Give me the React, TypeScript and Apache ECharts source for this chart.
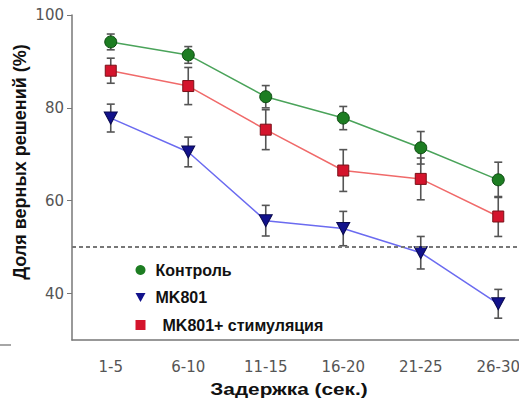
import React, { useEffect, useRef } from "react";
import * as echarts from "echarts";

const categories = ["1-5", "6-10", "11-15", "16-20", "21-25", "26-30"];
const controlValues = [94.2, 91.4, 82.4, 77.8, 71.4, 64.5];
const controlErr = [1.7, 1.8, 2.4, 2.5, 3.5, 3.8];
const mk801Values = [77.8, 70.5, 55.7, 54.0, 48.8, 37.8];
const mk801Err = [3.0, 3.2, 3.3, 3.7, 3.5, 3.1];
const stimValues = [88.0, 84.7, 75.3, 66.5, 64.7, 56.6];
const stimErr = [2.7, 4.0, 4.3, 4.5, 4.5, 4.3];
const yTicks = [40, 60, 80, 100];
const chanceLevel = 50;

const TRI_DOWN = "path://M0,0 L10,0 L5,9 Z";

function errData(vals: number[], errs: number[]) {
  return vals.map((v, i) => [i, v - errs[i], v + errs[i]]);
}

function errSeries(vals: number[], errs: number[]) {
  return {
    type: "custom",
    silent: true,
    z: 1,
    data: errData(vals, errs),
    renderItem: (params: any, api: any) => {
      const x = api.value(0);
      const lo = api.coord([x, api.value(1)]);
      const hi = api.coord([x, api.value(2)]);
      const cap = 4;
      const style = { stroke: "#555", lineWidth: 1.6 };
      return {
        type: "group",
        children: [
          { type: "line", shape: { x1: lo[0], y1: lo[1], x2: hi[0], y2: hi[1] }, style },
          { type: "line", shape: { x1: lo[0] - cap, y1: lo[1], x2: lo[0] + cap, y2: lo[1] }, style },
          { type: "line", shape: { x1: hi[0] - cap, y1: hi[1], x2: hi[0] + cap, y2: hi[1] }, style },
        ],
      };
    },
  };
}

export default function App() {
  const ref = useRef<HTMLDivElement>(null);
  useEffect(() => {
    if (!ref.current) return;
    const chart = echarts.init(ref.current, null, { renderer: "svg" });
    chart.setOption({
      animation: false,
      grid: {
        left: 72,
        width: 465,
        top: 15,
        bottom: 59,
        containLabel: false,
        outerBoundsMode: "none",
      },
      legend: {
        orient: "vertical",
        left: 130.5,
        top: 256,
        itemWidth: 10,
        itemHeight: 10,
        itemGap: 9.5,
        itemStyle: { borderWidth: 0 },
        textStyle: {
          fontFamily: "Liberation Sans",
          fontWeight: "bold",
          fontSize: 16,
          lineHeight: 18,
          color: "#111",
          padding: [0, 0, 0, 5],
        },
        data: [
          { name: "Контроль", icon: "circle" },
          { name: "MK801", icon: TRI_DOWN },
          { name: "MK801+ стимуляция", icon: "rect", textStyle: { padding: [0, 0, 0, 12] } },
        ],
      },
      xAxis: {
        type: "category",
        data: categories,
        boundaryGap: true,
        axisLine: { lineStyle: { color: "#777", width: 1.5 } },
        axisTick: { alignWithLabel: true, length: 3, lineStyle: { color: "#777" } },
        axisLabel: { color: "#555", fontFamily: "DejaVu Sans", fontSize: 15, margin: 19 },
        splitLine: { show: false },
      },
      yAxis: {
        type: "value",
        min: 30,
        max: 100,
        interval: 10,
        axisLine: { show: true, lineStyle: { color: "#777", width: 1.5 } },
        axisTick: { show: true, length: 5, customValues: yTicks, lineStyle: { color: "#777" } },
        axisLabel: { color: "#555", fontFamily: "DejaVu Sans", fontSize: 15, margin: 8, customValues: yTicks },
        splitLine: { show: false },
      },
      graphic: [
        {
          type: "text",
          x: 20,
          y: 162,
          rotation: Math.PI / 2,
          style: {
            text: "Доля верных решений (%)",
            fontFamily: "Liberation Sans",
            fontWeight: "bold",
            fontSize: 18,
            fill: "#111",
            align: "center",
            verticalAlign: "middle",
          },
        },
        {
          type: "text",
          x: 289,
          y: 389,
          scaleX: 1.3,
          style: {
            text: "Задержка (сек.)",
            fontFamily: "Liberation Sans",
            fontWeight: "bold",
            fontSize: 16,
            fill: "#111",
            align: "center",
            verticalAlign: "middle",
          },
        },
        {
          type: "line",
          shape: { x1: 0, y1: 345, x2: 11, y2: 345 },
          style: { stroke: "#888", lineWidth: 1.5 },
        },
      ],
      series: [
        errSeries(controlValues, controlErr),
        errSeries(mk801Values, mk801Err),
        errSeries(stimValues, stimErr),
        {
          name: "Контроль",
          type: "line",
          z: 3,
          data: controlValues,
          symbol: "circle",
          symbolSize: 12,
          lineStyle: { color: "#4aa35a", width: 1.5 },
          itemStyle: { color: "#1d7d22", borderColor: "#0c4a10", borderWidth: 1 },
          markLine: {
            silent: true,
            symbol: "none",
            label: { show: false },
            lineStyle: { color: "#777", type: [4, 3], width: 2 },
            data: [{ yAxis: chanceLevel }],
          },
        },
        {
          name: "MK801",
          type: "line",
          z: 3,
          data: mk801Values,
          symbol: TRI_DOWN,
          symbolSize: [13, 12],
          lineStyle: { color: "#6b6bf0", width: 1.5 },
          itemStyle: { color: "#12128c", borderColor: "#0a0a50", borderWidth: 1 },
        },
        {
          name: "MK801+ стимуляция",
          type: "line",
          z: 3,
          data: stimValues,
          symbol: "rect",
          symbolSize: 11,
          lineStyle: { color: "#f06a6a", width: 1.5 },
          itemStyle: { color: "#d4142c", borderColor: "#7a1018", borderWidth: 1 },
        },
      ],
    });
    return () => chart.dispose();
  }, []);
  return <div ref={ref} style={{ width: 519, height: 399, position: "absolute", left: 0, top: 0 }} />;
}
